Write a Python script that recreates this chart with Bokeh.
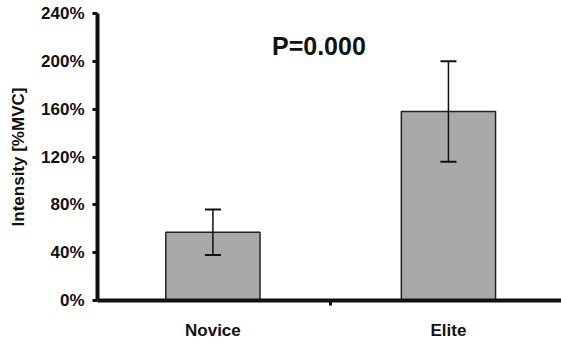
from bokeh.plotting import figure
from bokeh.models import ColumnDataSource, Whisker, TeeHead, FixedTicker, Range1d, Label
from bokeh.embed import file_html
from bokeh.resources import INLINE

categories = ["Novice", "Elite"]
means = [57, 158]
errors = [19, 42]
y_ticks = [0, 40, 80, 120, 160, 200, 240]
p_text = "P=0.000"

xs = [i + 1 for i in range(len(categories))]
src = ColumnDataSource(dict(
    x=xs, top=means,
    upper=[m + e for m, e in zip(means, errors)],
    lower=[m - e for m, e in zip(means, errors)],
))

p = figure(output_backend="svg", toolbar_location=None,
           frame_width=464, frame_height=287,
           min_border_left=97, min_border_right=0, min_border_top=13, min_border_bottom=42,
           x_range=Range1d(0.51, 2.48), y_range=Range1d(0, 240))
p.outline_line_color = None
p.grid.grid_line_color = None
p.background_fill_color = "white"

p.vbar(x="x", top="top", width=0.4, source=src, fill_color="#a9a9a9",
       line_color="#222222", line_width=1.5)
w = Whisker(base="x", upper="upper", lower="lower", source=src, level="overlay",
            line_color="#111111", line_width=1.5,
            upper_head=TeeHead(size=16, line_color="#111111", line_width=2),
            lower_head=TeeHead(size=16, line_color="#111111", line_width=2))
p.add_layout(w)

font = "Liberation Sans"
# y axis
ya = p.yaxis[0]
ya.ticker = FixedTicker(ticks=y_ticks)
ya.major_label_overrides = {t: f"{t}%" for t in y_ticks}
ya.axis_line_width = 4
ya.axis_line_color = "#111111"
ya.major_tick_line_width = 3
ya.major_tick_line_color = "#111111"
ya.major_tick_out = 5
ya.major_tick_in = 0
ya.minor_tick_line_color = None
ya.major_label_text_font = font
ya.major_label_text_font_style = "bold"
ya.major_label_text_font_size = "17px"
ya.major_label_text_color = "#111111"
ya.major_label_standoff = 8
ya.axis_label = "Intensity [%MVC]"
ya.axis_label_text_font = font
ya.axis_label_text_font_style = "bold"
ya.axis_label_text_font_size = "17px"
ya.axis_label_text_color = "#111111"
ya.axis_label_standoff = 10

# x axis
xa = p.xaxis[0]
xa.ticker = FixedTicker(ticks=xs, minor_ticks=[1.5])
xa.major_label_overrides = {x: c for x, c in zip(xs, categories)}
xa.axis_line_width = 4
xa.axis_line_color = "#111111"
xa.major_tick_line_color = None
xa.major_tick_out = 0
xa.major_tick_in = 0
xa.minor_tick_line_color = "#111111"
xa.minor_tick_line_width = 3
xa.minor_tick_out = 5
xa.minor_tick_in = 0
xa.major_label_text_font = font
xa.major_label_text_font_style = "bold"
xa.major_label_text_font_size = "17px"
xa.major_label_text_color = "#111111"
xa.major_label_standoff = 15

p.add_layout(Label(x=1.45, y=213, text=p_text, text_font=font, text_font_style="bold",
                   text_font_size="25px", text_align="center", text_baseline="middle",
                   text_color="#111111"))

open("out.html", "w").write(file_html(p, INLINE))
